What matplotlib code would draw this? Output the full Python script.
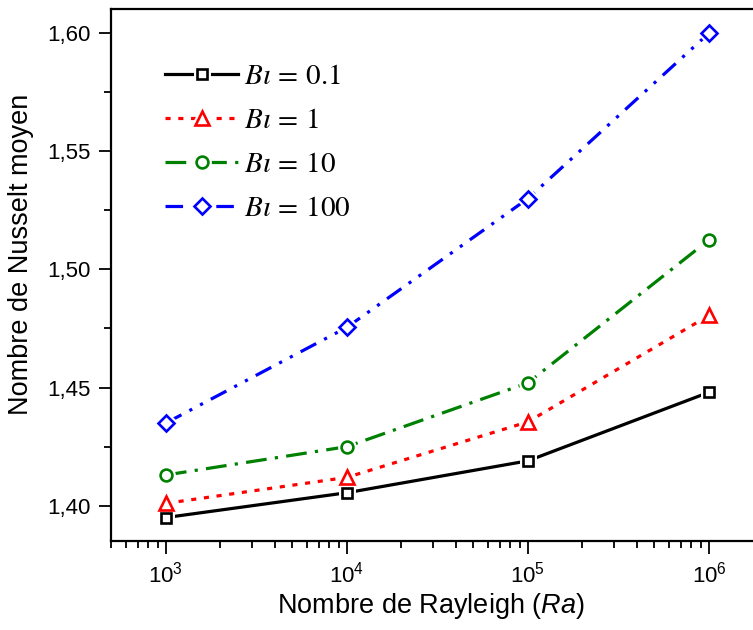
"""
Nombre de Nusselt moyen vs nombre de Rayleigh pour plusieurs Bi.
"""
import numpy as np
import matplotlib
matplotlib.use("Agg")
import matplotlib.pyplot as plt
from matplotlib.ticker import FuncFormatter, MultipleLocator, LogLocator
from matplotlib.legend_handler import HandlerTuple

plt.rcParams["font.family"] = ["Liberation Sans", "DejaVu Sans"]
plt.rcParams["mathtext.fontset"] = "custom"
plt.rcParams["mathtext.rm"] = "Liberation Sans"
plt.rcParams["mathtext.it"] = "Liberation Sans:italic"

# ── data ──────────────────────────────────────────────────────────────────────
ra = [1e3, 1e4, 1e5, 1e6]
nu_bi01 = [1.395, 1.4055, 1.419, 1.448]
nu_bi1 = [1.401, 1.412, 1.4355, 1.4805]
nu_bi10 = [1.413, 1.425, 1.452, 1.5125]
nu_bi100 = [1.435, 1.4755, 1.530, 1.600]
labels = [r"$B\iota\,=\,0.1$", r"$B\iota\,=\,1$", r"$B\iota\,=\,10$", r"$B\iota\,=\,100$"]

# ── styles ────────────────────────────────────────────────────────────────────
series = [
    (nu_bi01, "black", "-", "s", 7.5),
    (nu_bi1, "#ff0000", (0, (1.6, 2.4)), "^", 10),
    (nu_bi10, "#008000", (0, (6.5, 2.6, 1.0, 2.6)), "o", 8.5),
    (nu_bi100, "#0000ff", (0, (5.5, 2.8, 1.0, 2.8, 1.0, 2.8)), "D", 8),
]

fig = plt.figure(figsize=(7.53, 6.30), dpi=100)
ax = fig.add_axes([0.148, 0.141, 0.87, 0.844])

handles = []
for (vals, color, ls, mk, ms) in series:
    line, = ax.plot(ra, vals, color=color, linestyle=ls, linewidth=2.3, zorder=2)
    gap, = ax.plot(ra, vals, linestyle="none", marker=mk, markersize=ms,
                   markerfacecolor="white", markeredgecolor="white",
                   markeredgewidth=5, zorder=3)
    mark, = ax.plot(ra, vals, linestyle="none", marker=mk, markersize=ms,
                    markerfacecolor="white", markeredgecolor=color,
                    markeredgewidth=1.9, zorder=4)
    handles.append((line, gap, mark))

ax.set_xscale("log")
ax.set_xlim(500, 2.08e6)
ax.set_ylim(1.385, 1.610)
ax.yaxis.set_major_locator(MultipleLocator(0.05))
ax.yaxis.set_minor_locator(MultipleLocator(0.025))
ax.yaxis.set_major_formatter(FuncFormatter(lambda v, p: f"{v:.2f}".replace(".", ",")))
ax.xaxis.set_major_locator(LogLocator(base=10, numticks=10))
ax.xaxis.set_minor_locator(LogLocator(base=10, subs=np.arange(2, 10), numticks=20))

ax.tick_params(which="major", direction="out", length=9, width=1.3, labelsize=16, pad=6)
ax.tick_params(which="minor", direction="out", length=5, width=1.3)
for s in ["left", "bottom", "top"]:
    ax.spines[s].set_linewidth(1.6)
ax.spines["right"].set_visible(False)

ax.set_xlabel(r"Nombre de Rayleigh ($\mathit{Ra}$)", fontsize=19.5)
ax.set_ylabel("Nombre de Nusselt moyen", fontsize=19.5)
ax.xaxis.set_label_coords(0.488, -0.093)
ax.yaxis.set_label_coords(-0.118, 0.539)

leg = ax.legend(handles, labels, loc="upper left", bbox_to_anchor=(0.042, 0.95),
                frameon=False, fontsize=21, handlelength=2.5, handletextpad=0.2,
                labelspacing=0.55, handler_map={tuple: HandlerTuple(ndivide=1)})
for t in leg.get_texts():
    t.set_math_fontfamily("stix")

fig.savefig("out.png", dpi=100)
